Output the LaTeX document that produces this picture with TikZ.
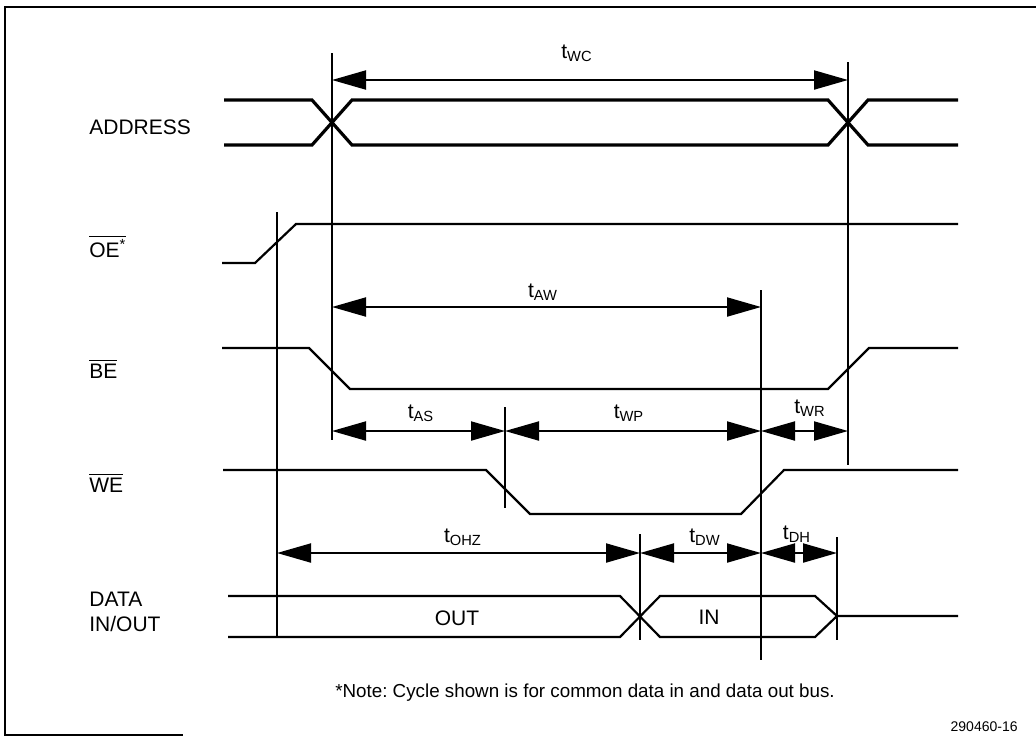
\documentclass[tikz,border=0pt]{standalone}
\usepackage{fontspec}
\setmainfont{Liberation Sans}
\usetikzlibrary{arrows.meta}
\newcommand{\ovl}[1]{$\overline{\mbox{#1}}$}
\frenchspacing
\begin{document}
\begin{tikzpicture}[x=0.5pt,y=-0.5pt,
		wave/.style={line width=1.1pt, line join=miter},
		bus/.style={line width=1.6pt},
		guide/.style={line width=1pt},
		dim/.style={line width=1pt, {Triangle[length=17pt,width=9.5pt]}-{Triangle[length=17pt,width=9.5pt]}},
		lbl/.style={anchor=base west, inner sep=0pt, font=\fontsize{10.5}{12}\selectfont},
		tlbl/.style={anchor=base, inner sep=0pt, font=\fontsize{10.5}{12}\selectfont}]
			\useasboundingbox (0,0) rectangle (1036,746);
			%frame
			\draw[guide] (1036,7) -- (5,7) -- (5,735) -- (183,735);
			
			%signal names
			\node[lbl] (addr) at (89,134){ADDRESS};
			\node[lbl] (oe) at (89,257){\ovl{OE\textsuperscript{*}}};
			\node[lbl] (be) at (89,378){\ovl{BE}};
			\node[lbl] (we) at (89,492){\ovl{WE}};
			\node[lbl] (data) at (89,606){DATA};
			\node[lbl] (inout) at (89,631){IN/OUT};
			
			%waveforms
			\draw[bus] (224,100) -- (312,100) -- (352,145) -- (828,145) -- (868,100) -- (958,100);
			\draw[bus] (224,145) -- (312,145) -- (352,100) -- (828,100) -- (868,145) -- (958,145);
			\draw[wave] (222,263) -- (255,263) -- (296,224) -- (958,224);
			\draw[wave] (222,348) -- (309,348) -- (350,389) -- (828,389) -- (869,348) -- (958,348);
			\draw[wave] (223,470) -- (486,470) -- (530,514) -- (741,514) -- (784,470) -- (958,470);
			\draw[wave] (228,596) -- (620,596) -- (660,637) -- (815,637) -- (837,616) -- (958,616);
			\draw[wave] (228,637) -- (620,637) -- (660,596) -- (815,596) -- (837,616);
			\node[tlbl] (out) at (457,625){OUT};
			\node[tlbl] (in) at (709,624){IN};
			
			%reference lines
			\foreach \x/\ya/\yb in {277/212/638, 332/53/440, 505/407/508, 640/534/640, 761/290/660, 837/537/640, 848/62/465}{
				\draw[guide] (\x,\ya) -- (\x,\yb);
			}
			
			%timing parameters
			\foreach \n/\a/\b/\y/\lx/\ly/\s in {wc/332/848/80/577/58/WC, aw/332/761/307/543/297/AW,
					as/332/505/431/421/418/AS, wp/505/761/431/629/418/WP, wr/761/848/431/810/413/WR,
					ohz/277/640/553/463/542/OHZ, dw/640/761/553/705/542/DW, dh/761/837/553/797/539/DH}{
				\coordinate (\n-a) at (\a,\y);
				\coordinate (\n-b) at (\b,\y);
				\draw[dim] (\n-a) -- (\n-b);
				\node[tlbl] (\n) at (\lx,\ly){t\textsubscript{\s}};
			}
			
			\node[anchor=base, inner sep=0pt, font=\fontsize{9.4}{11}\selectfont] (note) at (585,697){*Note: Cycle shown is for common data in and data out bus.};
			\node[anchor=base east, inner sep=0pt, font=\fontsize{7}{8}\selectfont] (fig) at (1018,731){290460-16};
		\end{tikzpicture}
\end{document}
